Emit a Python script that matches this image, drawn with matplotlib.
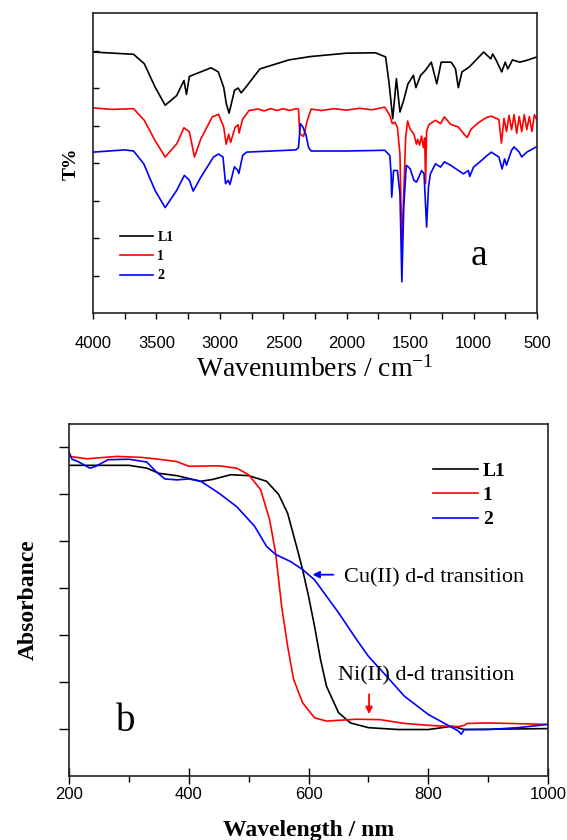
import numpy as np
import matplotlib
matplotlib.use("Agg")
import matplotlib.pyplot as plt
from matplotlib.ticker import MultipleLocator

# ---- panel a: FT-IR spectra (arbitrary offset units) ----
ir_l1_x = [4000, 3680, 3596, 3511, 3431, 3340, 3283, 3263, 3240, 3069, 3012, 2969, 2949,
           2927, 2884, 2856, 2832, 2798, 2684, 2456, 2286, 2001, 1773, 1693, 1665, 1637,
           1608, 1580, 1551, 1517, 1474, 1454, 1417, 1380, 1333, 1290, 1255, 1176, 1142,
           1120, 1091, 1034, 920, 864, 849, 821, 778, 750, 730, 693, 636, 579, 500]
ir_l1_y = [6.97, 6.91, 6.66, 6.04, 5.55, 5.81, 6.21, 5.84, 6.32, 6.55, 6.44, 6.02, 5.59,
           5.34, 5.95, 6.01, 5.88, 6.02, 6.52, 6.76, 6.85, 6.94, 6.95, 6.84, 6.12, 5.19,
           6.26, 5.37, 5.68, 6.12, 6.35, 6.02, 6.35, 6.48, 6.70, 6.12, 6.70, 6.70, 6.52,
           6.02, 6.44, 6.57, 6.97, 6.79, 6.92, 6.75, 6.44, 6.70, 6.52, 6.76, 6.70, 6.75, 6.84]

ir_1_x = [4000, 3850, 3680, 3596, 3511, 3431, 3340, 3283, 3240, 3200, 3150, 3060, 3010,
          2969, 2950, 2930, 2915, 2880, 2856, 2848, 2820, 2770, 2700, 2650, 2600, 2550,
          2500, 2450, 2400, 2380, 2370, 2340, 2310, 2280, 2200, 2100, 2000, 1900, 1800,
          1700, 1660, 1640, 1620, 1600, 1580, 1565, 1545, 1535, 1520, 1500, 1470, 1450,
          1440, 1425, 1410, 1395, 1385, 1378, 1370, 1350, 1300, 1260, 1230, 1180, 1120,
          1080, 1050, 1020, 960, 900, 860, 800, 780, 760, 740, 720, 700, 680, 660, 640,
          620, 600, 580, 560, 540, 520, 500]
ir_1_y = [5.48, 5.44, 5.46, 5.15, 4.61, 4.17, 4.52, 4.95, 4.84, 4.17, 4.65, 5.24, 5.31,
          4.96, 4.51, 4.78, 4.56, 4.96, 5.03, 4.81, 5.18, 5.41, 5.45, 5.40, 5.46, 5.41,
          5.46, 5.41, 5.46, 5.45, 4.79, 4.72, 5.15, 5.45, 5.41, 5.46, 5.42, 5.47, 5.43,
          5.50, 5.28, 5.06, 5.10, 4.96, 4.24, 1.77, 3.72, 4.68, 5.13, 4.92, 4.78, 4.51,
          4.64, 4.49, 4.73, 4.42, 4.68, 3.46, 4.86, 5.04, 5.15, 5.06, 5.24, 5.04, 4.97,
          4.80, 4.69, 4.91, 5.09, 5.22, 5.26, 5.17, 4.54, 5.20, 4.85, 5.28, 4.90, 5.30,
          4.80, 5.25, 4.85, 5.30, 4.90, 5.25, 4.85, 5.30, 5.15]

ir_2_x = [4000, 3750, 3680, 3600, 3511, 3431, 3340, 3280, 3240, 3210, 3150, 3050, 3010,
          2975, 2955, 2935, 2920, 2885, 2860, 2850, 2820, 2790, 2400, 2380, 2365, 2345,
          2320, 2300, 2280, 2000, 1700, 1660, 1650, 1645, 1630, 1600, 1580, 1565, 1550,
          1530, 1500, 1470, 1450, 1430, 1410, 1390, 1370, 1355, 1340, 1300, 1260, 1230,
          1180, 1120, 1080, 1040, 1030, 1000, 950, 900, 860, 800, 775, 755, 740, 700,
          680, 640, 620, 580, 500]
ir_2_y = [4.30, 4.36, 4.33, 3.99, 3.28, 2.82, 3.28, 3.68, 3.55, 3.26, 3.63, 4.17, 4.25,
          4.17, 3.46, 3.55, 3.44, 3.91, 3.82, 3.73, 4.21, 4.30, 4.36, 4.42, 5.06, 4.97,
          4.75, 4.42, 4.33, 4.33, 4.35, 4.21, 3.73, 3.10, 3.81, 3.81, 3.19, 0.84, 2.84,
          3.95, 3.86, 3.55, 3.50, 3.64, 3.81, 3.72, 2.30, 3.37, 3.72, 3.99, 3.90, 4.04,
          3.95, 3.81, 3.72, 3.81, 3.65, 3.90, 4.04, 4.19, 4.30, 4.17, 3.85, 4.12, 3.95,
          4.35, 4.44, 4.30, 4.17, 4.30, 4.45]

# ---- panel b: UV-Vis spectra ----
uv_l1_x = [200, 300, 330, 350, 380, 420, 440, 470, 500, 530, 550, 565, 580, 590, 600,
           610, 620, 630, 650, 670, 700, 750, 800, 840, 860, 1000]
uv_l1_y = [6.62, 6.62, 6.56, 6.45, 6.40, 6.28, 6.32, 6.42, 6.40, 6.28, 6.00, 5.60, 4.89,
           4.40, 3.83, 3.19, 2.48, 1.91, 1.35, 1.13, 1.03, 0.99, 0.99, 1.06, 0.99, 1.01]

uv_1_x = [200, 230, 280, 320, 350, 380, 400, 450, 480, 500, 520, 535, 545, 555, 565,
          575, 590, 610, 630, 680, 720, 760, 800, 850, 860, 865, 900, 1000]
uv_1_y = [6.81, 6.76, 6.81, 6.79, 6.75, 6.70, 6.60, 6.61, 6.56, 6.42, 6.10, 5.46, 4.75,
          3.62, 2.77, 2.06, 1.56, 1.24, 1.17, 1.21, 1.20, 1.12, 1.08, 1.05, 1.08, 1.12,
          1.13, 1.10]

uv_2_x = [200, 205, 215, 235, 245, 265, 300, 330, 345, 360, 380, 400, 420, 450, 480,
          510, 530, 545, 570, 590, 610, 630, 650, 680, 700, 730, 760, 800, 830, 850,
          855, 860, 900, 950, 1000]
uv_2_y = [6.91, 6.75, 6.70, 6.56, 6.60, 6.74, 6.75, 6.69, 6.49, 6.33, 6.31, 6.33, 6.28,
          6.03, 5.74, 5.32, 4.89, 4.72, 4.57, 4.40, 4.18, 3.83, 3.48, 2.91, 2.55, 2.13,
          1.70, 1.31, 1.10, 0.96, 0.89, 0.99, 0.99, 1.03, 1.10]

labels = ["L1", "1", "2"]
colors = ["#000000", "#ff0000", "#0000ff"]

serif = "Liberation Serif"
sans = "Liberation Sans"
plt.rcParams["mathtext.fontset"] = "custom"
plt.rcParams["mathtext.rm"] = serif
plt.rcParams["mathtext.it"] = serif + ":italic"

fig = plt.figure(figsize=(5.67, 8.4), dpi=100)

# ---------------- panel a ----------------
ax1 = fig.add_axes([0.164, 0.627, 0.783, 0.357])
for x, y, lab, c in zip([ir_l1_x, ir_1_x, ir_2_x], [ir_l1_y, ir_1_y, ir_2_y], labels, colors):
    ax1.plot(x, y, color=c, lw=1.2, label=lab)
ax1.set_xlim(4000, 500)
ax1.set_ylim(0, 8)
ax1.xaxis.set_major_locator(MultipleLocator(500))
ax1.xaxis.set_minor_locator(MultipleLocator(250))
ax1.set_yticks(np.arange(1, 8))
ax1.set_yticklabels([])
ax1.tick_params(axis="x", which="major", direction="out", length=4, width=1, labelsize=12, pad=12)
ax1.tick_params(axis="x", which="minor", direction="out", length=4, width=1)
ax1.tick_params(axis="y", direction="in", length=4, width=1)
for lbl in ax1.get_xticklabels():
    lbl.set_family(sans)
for sp in ax1.spines.values():
    sp.set_linewidth(1.2)
    sp.set_color("#222222")
ax1.set_xlabel(r"Wavenumbers / cm$^{\mathregular{-1}}$", family=serif, fontsize=20, labelpad=4)
ax1.set_ylabel("T%", family=serif, fontsize=14, fontweight="bold", labelpad=6)
ax1.text(957, 1.28, "a", family=serif, fontsize=27, ha="center", va="baseline")
leg1 = ax1.legend(loc="lower left", bbox_to_anchor=(0.045, 0.08), frameon=False,
                  prop={"family": serif, "weight": "bold", "size": 10},
                  handlelength=2.4, handletextpad=0.3, labelspacing=0.45, borderpad=0)

# ---------------- panel b ----------------
ax2 = fig.add_axes([0.1217, 0.0762, 0.845, 0.419])
for x, y, lab, c in zip([uv_l1_x, uv_1_x, uv_2_x], [uv_l1_y, uv_1_y, uv_2_y], labels, colors):
    ax2.plot(x, y, color=c, lw=1.2, label=lab)
ax2.set_xlim(200, 1000)
ax2.set_ylim(0, 7.5)
ax2.xaxis.set_major_locator(MultipleLocator(200))
ax2.xaxis.set_minor_locator(MultipleLocator(100))
ax2.set_yticks(np.arange(1, 8))
ax2.set_yticklabels([])
ax2.tick_params(axis="x", which="major", direction="inout", length=12, width=1, labelsize=12, pad=2)
ax2.tick_params(axis="x", which="minor", direction="out", length=4, width=1)
ax2.tick_params(axis="y", direction="out", length=7, width=1)
for lbl in ax2.get_xticklabels():
    lbl.set_family(sans)
for sp in ax2.spines.values():
    sp.set_linewidth(1.2)
    sp.set_color("#222222")
ax2.set_xlabel("Wavelength / nm", family=serif, fontsize=17, fontweight="bold", labelpad=13)
ax2.set_ylabel("Absorbance", family=serif, fontsize=17, fontweight="bold", labelpad=11)
ax2.text(278, 0.96, "b", family=serif, fontsize=28, ha="left", va="baseline")

ax2.annotate("", xy=(602, 4.29), xytext=(646, 4.29),
             arrowprops=dict(arrowstyle="-|>", color="#0000ff", lw=1.3, mutation_scale=10))
ax2.text(660, 4.22, "Cu(II) d-d transition", family=serif, fontsize=16, ha="left", va="center")
ax2.annotate("", xy=(701, 1.26), xytext=(701, 1.8),
             arrowprops=dict(arrowstyle="-|>", color="#ff0000", lw=1.3, mutation_scale=10))
ax2.text(649, 2.13, "Ni(II) d-d transition", family=serif, fontsize=16, ha="left", va="center")

leg2 = ax2.legend(loc="upper left", bbox_to_anchor=(0.74, 0.92), frameon=False,
                  prop={"family": serif, "weight": "bold", "size": 14},
                  handlelength=2.3, handletextpad=0.25, labelspacing=0.35, borderpad=0)

fig.savefig("out.png", dpi=100)
